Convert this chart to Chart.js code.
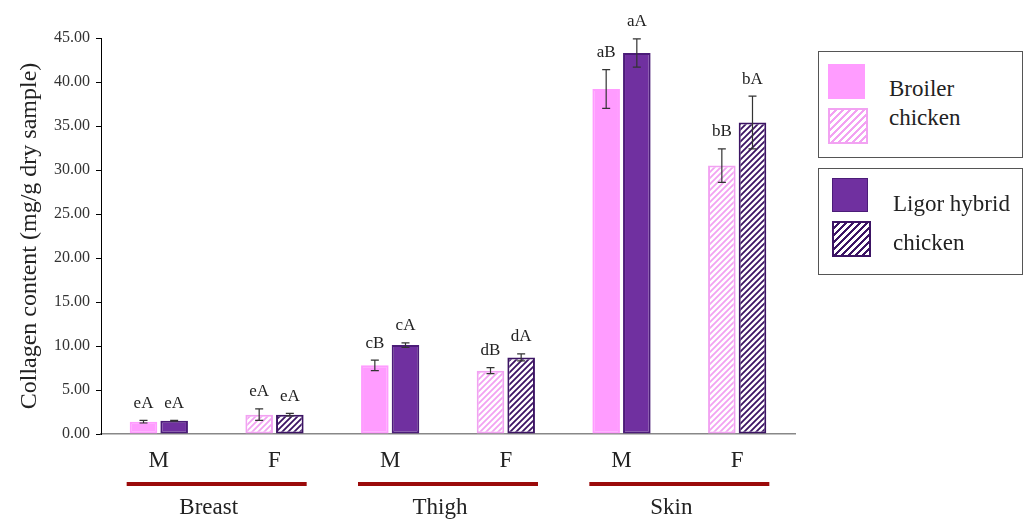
<!DOCTYPE html>
<html>
<head>
<meta charset="utf-8">
<script src="https://cdn.jsdelivr.net/npm/chart.js@4/dist/chart.umd.min.js"></script>
<style>
    body { margin: 0; background: #fff; }
    #wrap { position: relative; width: 1026px; height: 520px; }
    .legend {
        position: absolute; left: 818px; width: 205px; border: 1.5px solid #555;
        box-sizing: border-box; background: #fff;
        font-family: 'Liberation Serif', serif; font-size: 23px; color: #222;
    }
    .sw { position: absolute; box-sizing: border-box; }
    .txt { position: absolute; line-height: 1; }
</style>
</head>
<body>
<div id="wrap">
    <canvas id="myChart" width="1026" height="520"></canvas>
    <div class="legend" style="top:51px;height:107px;">
        <div class="sw" style="left:9px;top:12px;width:37px;height:35px;background:#ff9cff;"></div>
        <div class="sw" style="left:9px;top:56px;width:40px;height:36px;border:2px solid #f2a2f2;
            background:repeating-linear-gradient(-45deg,#fff 0 3px,#f2a2f2 3px 5px);"></div>
        <div class="txt" style="left:70px;top:25px;">Broiler</div>
        <div class="txt" style="left:70px;top:54px;">chicken</div>
    </div>
    <div class="legend" style="top:168px;height:107px;">
        <div class="sw" style="left:13px;top:9px;width:36px;height:34px;background:#7030a0;border:1.5px solid #4b1c78;"></div>
        <div class="sw" style="left:13px;top:52px;width:39px;height:36px;border:2px solid #3c1464;
            background:repeating-linear-gradient(-45deg,#fff 0 3px,#3c1464 3px 5px);"></div>
        <div class="txt" style="left:74px;top:23px;">Ligor hybrid</div>
        <div class="txt" style="left:74px;top:62px;">chicken</div>
    </div>
</div>
<script>
const categories = ['M', 'F', 'M', 'F', 'M', 'F'];
const groups = ['Breast', 'Thigh', 'Skin'];
const seriesNames = ['Broiler chicken', 'Ligor hybrid chicken'];
const broilerMeans = [1.4, 2.2, 7.8, 7.2, 39.2, 30.5];
const broilerErr = [0.15, 0.65, 0.6, 0.35, 2.2, 1.9];
const ligorMeans = [1.5, 2.2, 10.1, 8.7, 43.3, 35.4];
const ligorErr = [0.05, 0.15, 0.25, 0.4, 1.6, 3.0];
const broilerLetters = ['eA', 'eA', 'cB', 'dB', 'aB', 'bB'];
const ligorLetters = ['eA', 'eA', 'cA', 'dA', 'aA', 'bA'];

const serif = "'Liberation Serif', serif";

function hatch(color) {
    const c = document.createElement('canvas');
    c.width = 6; c.height = 6;
    const g = c.getContext('2d');
    g.fillStyle = '#fff';
    g.fillRect(0, 0, 6, 6);
    g.strokeStyle = color;
    g.lineWidth = 1.8;
    g.beginPath();
    g.moveTo(-1, 7); g.lineTo(7, -1);
    g.moveTo(-1, 1); g.lineTo(1, -1);
    g.moveTo(5, 7); g.lineTo(7, 5);
    g.stroke();
    return g.createPattern(c, 'repeat');
}

const ctx = document.getElementById('myChart').getContext('2d');
const pinkHatch = hatch('#f2a2f2');
const purpleHatch = hatch('#3c1464');

// error bars + significance letters
const errorBars = {
    id: 'errorBars',
    afterDatasetsDraw(chart) {
        const y = chart.scales.y;
        const errs = [broilerErr, ligorErr];
        const letters = [broilerLetters, ligorLetters];
        const c = chart.ctx;
        c.save();
        chart.data.datasets.forEach((ds, di) => {
            chart.getDatasetMeta(di).data.forEach((bar, i) => {
                const v = ds.data[i], e = errs[di][i];
                const top = y.getPixelForValue(v + e), bot = y.getPixelForValue(v - e);
                c.strokeStyle = '#333';
                c.lineWidth = 1.2;
                c.beginPath();
                c.moveTo(bar.x, top); c.lineTo(bar.x, bot);
                c.moveTo(bar.x - 4, top); c.lineTo(bar.x + 4, top);
                c.moveTo(bar.x - 4, bot); c.lineTo(bar.x + 4, bot);
                c.stroke();
                c.fillStyle = '#222';
                c.font = '17px ' + serif;
                c.textAlign = 'center';
                c.textBaseline = 'middle';
                c.fillText(letters[di][i], bar.x, top - 17);
            });
        });
        c.restore();
    }
};

// group underlines and names
const groupLabels = {
    id: 'groupLabels',
    afterDraw(chart) {
        const x = chart.scales.x;
        const c = chart.ctx;
        c.save();
        groups.forEach((name, gi) => {
            const mid = (x.getPixelForValue(gi * 2) + x.getPixelForValue(gi * 2 + 1)) / 2;
            c.fillStyle = '#9b0a0a';
            c.fillRect(mid - 90, 482, 180, 4);
            c.fillStyle = '#222';
            c.font = '23px ' + serif;
            c.textAlign = 'center';
            c.textBaseline = 'middle';
            c.fillText(name, mid - 8, 508);
        });
        c.restore();
    }
};

new Chart(ctx, {
    type: 'bar',
    data: {
        labels: categories,
        datasets: [
            {
                label: seriesNames[0],
                data: broilerMeans,
                backgroundColor: categories.map(s => s === 'M' ? '#ff9cff' : pinkHatch),
                borderColor: categories.map(s => s === 'M' ? '#ff9cff' : '#f2a2f2'),
                borderWidth: 2,
                borderSkipped: false
            },
            {
                label: seriesNames[1],
                data: ligorMeans,
                backgroundColor: categories.map(s => s === 'M' ? '#7030a0' : purpleHatch),
                borderColor: categories.map(s => s === 'M' ? '#4b1c78' : '#3c1464'),
                borderWidth: 2,
                borderSkipped: false
            }
        ]
    },
    options: {
        responsive: false,
        animation: false,
        categoryPercentage: 0.53,
        barPercentage: 0.9,
        layout: { padding: { left: 0, right: 231, top: 38, bottom: 0 } },
        plugins: {
            legend: { display: false },
            tooltip: { enabled: false }
        },
        scales: {
            x: {
                grid: { display: false },
                border: { color: '#888', width: 1.5 },
                ticks: { color: '#222', font: { family: serif, size: 23 }, padding: 5 },
                afterFit(scale) { scale.height = 86; }
            },
            y: {
                min: 0,
                max: 45,
                ticks: {
                    stepSize: 5,
                    color: '#333',
                    font: { family: serif, size: 16 },
                    padding: 6,
                    callback: v => v.toFixed(2)
                },
                grid: { drawOnChartArea: false, tickLength: 5, color: '#000' },
                border: { color: '#000', width: 1 },
                title: {
                    display: true,
                    text: 'Collagen content (mg/g dry sample)',
                    color: '#222',
                    font: { family: serif, size: 24 },
                    padding: { top: 15, bottom: 0 }
                },
                afterFit(scale) { scale.width = 101; }
            }
        }
    },
    plugins: [errorBars, groupLabels]
});
</script>
</body>
</html>
